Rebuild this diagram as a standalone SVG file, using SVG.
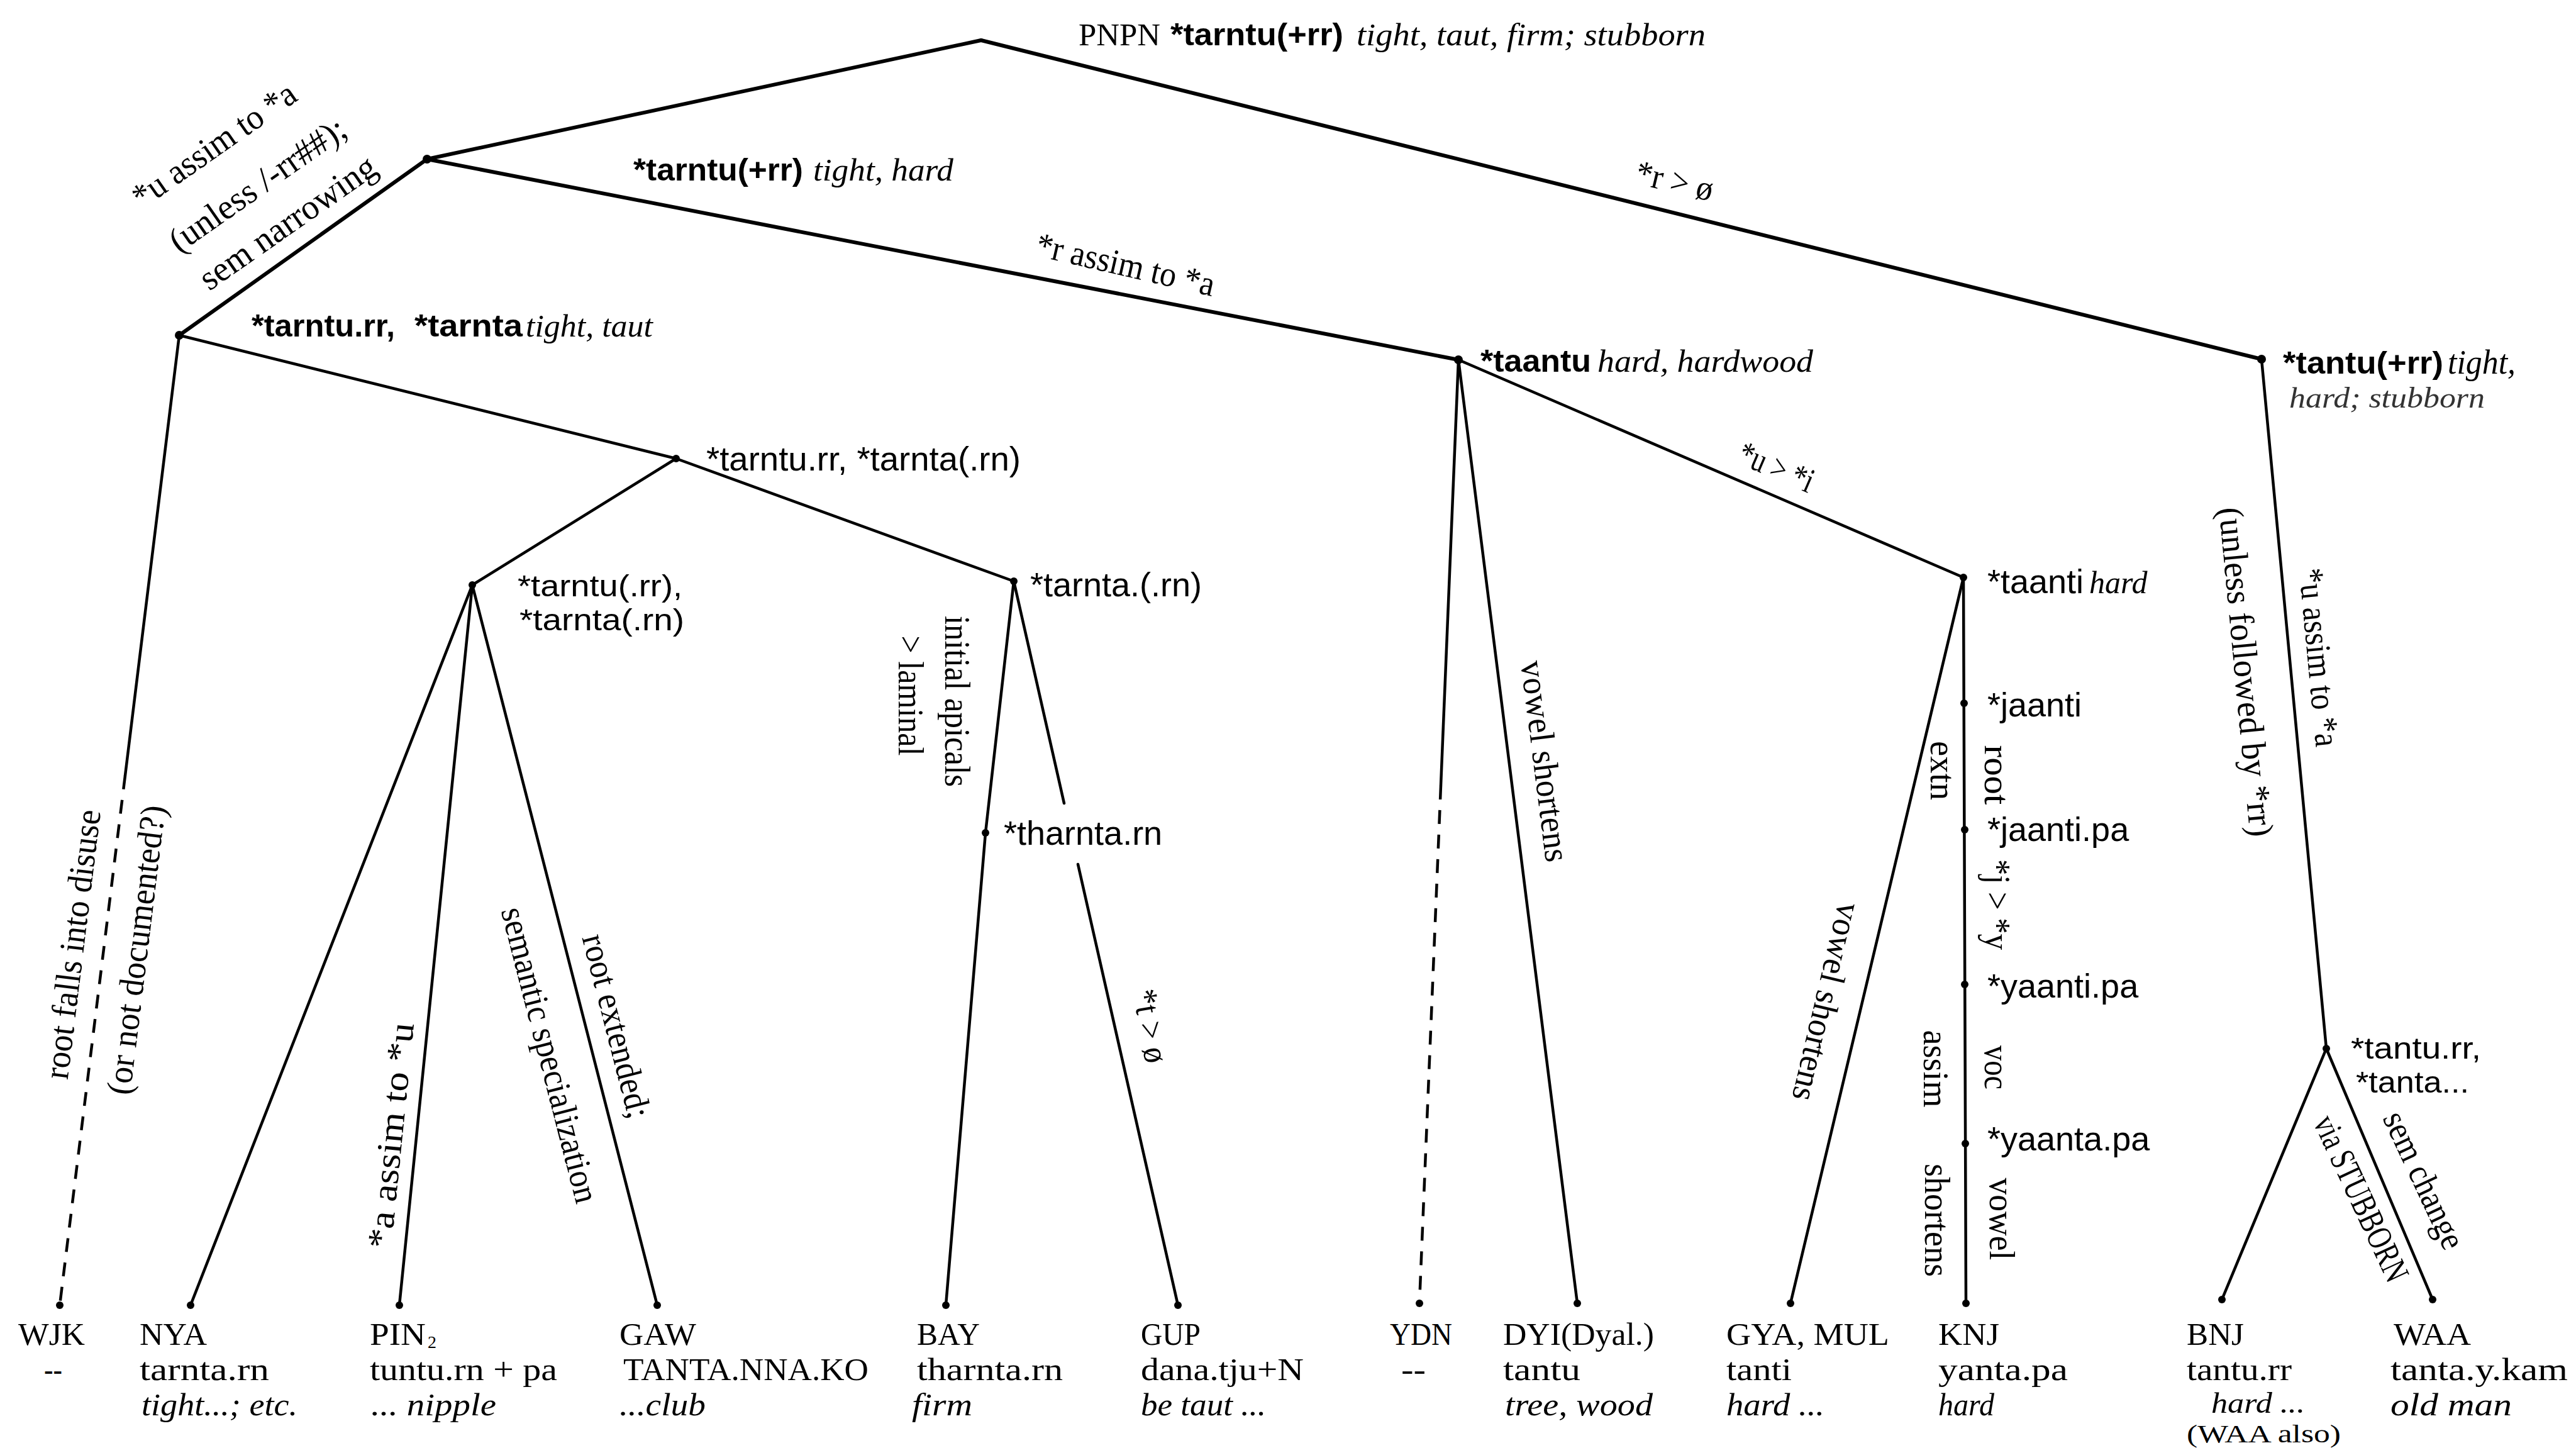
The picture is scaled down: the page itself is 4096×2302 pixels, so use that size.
<svg xmlns="http://www.w3.org/2000/svg" width="4096" height="2302" viewBox="0 0 4096 2302">
<style>
.e{stroke:#000;stroke-width:4.5;fill:none;stroke-linecap:round;stroke-linejoin:round}
.t{stroke-width:6}
.d{stroke-dasharray:22 17;stroke-linecap:butt}
.dot{fill:#000}
.s{font-family:"Liberation Sans",Arial,sans-serif;font-size:54px;fill:#000}
.s2{font-family:"Liberation Sans",Arial,sans-serif;font-size:48px;fill:#000}
.sb{font-family:"Liberation Sans",Arial,sans-serif;font-size:50px;font-weight:bold;fill:#000}
.r{font-family:"Liberation Serif","Times New Roman",serif;font-size:56px;fill:#000}
.lf{font-family:"Liberation Serif","Times New Roman",serif;font-size:50px;fill:#000}
.i{font-style:italic}
.c{text-anchor:middle;dominant-baseline:central}
</style>
<rect width="4096" height="2302" fill="#fff"/>
<g id="connectors">
<path class="e t" d="M1560,64 L679,253"/>
<path class="e t" d="M1560,64 L3596,571"/>
<path class="e t" d="M679,253 L285,533"/>
<path class="e t" d="M679,253 L2319,572"/>
<path class="e" d="M285,533 L199,1233"/>
<path class="e d" d="M199,1233 L95,2075"/>
<path class="e" d="M285,533 L1075,729"/>
<path class="e" d="M1075,729 L751,930"/>
<path class="e" d="M1075,729 L1612,924"/>
<path class="e" d="M751,930 L303,2075"/>
<path class="e" d="M751,930 L635,2075"/>
<path class="e" d="M751,930 L1045,2075"/>
<path class="e" d="M1612,924 L1567,1324 L1504,2075"/>
<path class="e" d="M1612,924 L1692,1277"/>
<path class="e" d="M1714,1374 L1873,2075"/>
<path class="e" d="M2319,572 L2291,1249"/>
<path class="e d" d="M2291,1249 L2257,2072"/>
<path class="e" d="M2319,572 L2508,2072"/>
<path class="e" d="M2319,572 L3122,918"/>
<path class="e" d="M3122,918 L2847,2072"/>
<path class="e" d="M3122,918 L3126,2072"/>
<path class="e" d="M3596,571 L3699,1667"/>
<path class="e" d="M3699,1667 L3533,2066"/>
<path class="e" d="M3699,1667 L3868,2066"/>
</g>
<g id="edge-labels">
<text class="r c" transform="translate(340,230) rotate(-35)" textLength="305" lengthAdjust="spacingAndGlyphs">*u assim to *a</text>
<text class="r c" transform="translate(409,293) rotate(-35)" textLength="330" lengthAdjust="spacingAndGlyphs">(unless /-rr##);</text>
<text class="r c" transform="translate(457,353) rotate(-35)" textLength="330" lengthAdjust="spacingAndGlyphs">sem narrowing</text>
<text class="r c" transform="translate(1790,420) rotate(13)" textLength="290" lengthAdjust="spacingAndGlyphs">*r assim to *a</text>
<text class="r c" transform="translate(2663,287) rotate(13.5)" textLength="125" lengthAdjust="spacingAndGlyphs">*r &gt; ø</text>
<text class="r c" transform="translate(2825,742) rotate(23.3)" textLength="125" lengthAdjust="spacingAndGlyphs">*u &gt; *i</text>
<text class="r c" transform="translate(115,1501) rotate(-83)" textLength="431" lengthAdjust="spacingAndGlyphs">root falls into disuse</text>
<text class="r c" transform="translate(216,1510) rotate(-83)" textLength="463" lengthAdjust="spacingAndGlyphs">(or not documented?)</text>
<text class="r c" transform="translate(621,1805) rotate(-84.2)" textLength="360" lengthAdjust="spacingAndGlyphs">*a assim to *u</text>
<text class="r c" transform="translate(981,1631) rotate(75.6)" textLength="300" lengthAdjust="spacingAndGlyphs">root extended;</text>
<text class="r c" transform="translate(875,1677) rotate(75.6)" textLength="483" lengthAdjust="spacingAndGlyphs">semantic specialization</text>
<text class="r c" transform="translate(1522,1115) rotate(90)" textLength="272" lengthAdjust="spacingAndGlyphs">initial apicals</text>
<text class="r c" transform="translate(1448,1106) rotate(90)" textLength="191" lengthAdjust="spacingAndGlyphs">&gt; laminal</text>
<text class="r c" transform="translate(1830,1631) rotate(80)" textLength="118" lengthAdjust="spacingAndGlyphs">*t &gt; ø</text>
<text class="r c" transform="translate(2457,1210) rotate(82.8)" textLength="322" lengthAdjust="spacingAndGlyphs">vowel shortens</text>
<text class="r c" transform="translate(2905,1593) rotate(103.4)" textLength="322" lengthAdjust="spacingAndGlyphs">vowel shortens</text>
<text class="r c" transform="translate(3175,1232) rotate(90)" textLength="95" lengthAdjust="spacingAndGlyphs">root</text>
<text class="r c" transform="translate(3089,1225) rotate(90)" textLength="94" lengthAdjust="spacingAndGlyphs">extn</text>
<text class="r c" transform="translate(3176,1438) rotate(90)" textLength="144" lengthAdjust="spacingAndGlyphs">*j &gt; *y</text>
<text class="r c" transform="translate(3175,1697) rotate(90)" textLength="70" lengthAdjust="spacingAndGlyphs">voc</text>
<text class="r c" transform="translate(3078,1699) rotate(90)" textLength="123" lengthAdjust="spacingAndGlyphs">assim</text>
<text class="r c" transform="translate(3183,1938) rotate(90)" textLength="131" lengthAdjust="spacingAndGlyphs">vowel</text>
<text class="r c" transform="translate(3080,1940) rotate(90)" textLength="180" lengthAdjust="spacingAndGlyphs">shortens</text>
<text class="r c" transform="translate(3688,1045) rotate(84.6)" textLength="285" lengthAdjust="spacingAndGlyphs">*u assim to *a</text>
<text class="r c" transform="translate(3572,1068) rotate(84.6)" textLength="526" lengthAdjust="spacingAndGlyphs">(unless followed by *rr)</text>
<text class="r c" transform="translate(3755,1905) rotate(65)" font-size="52" textLength="285" lengthAdjust="spacingAndGlyphs">via STUBBORN</text>
<text class="r c" transform="translate(3855,1876) rotate(65)" font-size="52" textLength="235" lengthAdjust="spacingAndGlyphs">sem change</text>
</g>
<g id="n-root">
<text class="lf" x="1715" y="72" font-size="57" textLength="130" lengthAdjust="spacingAndGlyphs">PNPN</text>
<text class="sb" x="1861" y="72" font-size="52" textLength="275" lengthAdjust="spacingAndGlyphs">*tarntu(+rr)</text>
<text class="lf i" x="2157" y="72" font-size="57" textLength="555" lengthAdjust="spacingAndGlyphs">tight, taut, firm; stubborn</text>
</g>
<g id="n-a">
<circle class="dot" cx="679" cy="253" r="7"/>
<text class="sb" x="1007" y="287" textLength="270" lengthAdjust="spacingAndGlyphs">*tarntu(+rr)</text>
<text class="lf i" x="1293" y="287" font-size="54" textLength="223" lengthAdjust="spacingAndGlyphs">tight, hard</text>
</g>
<g id="n-b">
<circle class="dot" cx="285" cy="533" r="7"/>
<text class="sb" x="400" y="535" textLength="228" lengthAdjust="spacingAndGlyphs">*tarntu.rr,</text>
<text class="sb" x="659" y="535" textLength="172" lengthAdjust="spacingAndGlyphs">*tarnta</text>
<text class="lf i" x="836" y="535" font-size="54" textLength="202" lengthAdjust="spacingAndGlyphs">tight, taut</text>
</g>
<g id="n-c">
<circle class="dot" cx="2319" cy="572" r="7"/>
<text class="sb" x="2354" y="591" textLength="176" lengthAdjust="spacingAndGlyphs">*taantu</text>
<text class="lf i" x="2540" y="591" font-size="54" textLength="343" lengthAdjust="spacingAndGlyphs">hard, hardwood</text>
</g>
<g id="n-d">
<circle class="dot" cx="3596" cy="571" r="7"/>
<text class="lf"><tspan class="sb" x="3630" y="594" textLength="255" lengthAdjust="spacingAndGlyphs">*tantu(+rr)</tspan><tspan class="i" x="3892" y="594" font-size="54" textLength="108" lengthAdjust="spacingAndGlyphs">tight,</tspan><tspan class="i" x="3640" y="648" font-size="46" fill="#333" textLength="311" lengthAdjust="spacingAndGlyphs">hard; stubborn</tspan></text>
</g>
<g id="n-e">
<circle class="dot" cx="1075" cy="729" r="6"/>
<text class="s" x="1123" y="748" textLength="500" lengthAdjust="spacingAndGlyphs">*tarntu.rr, *tarnta(.rn)</text>
</g>
<g id="n-f">
<circle class="dot" cx="751" cy="930" r="6"/>
<text class="s2"><tspan x="823" y="948" textLength="262" lengthAdjust="spacingAndGlyphs">*tarntu(.rr),</tspan><tspan x="826" y="1002" textLength="262" lengthAdjust="spacingAndGlyphs">*tarnta(.rn)</tspan></text>
</g>
<g id="n-g">
<circle class="dot" cx="1612" cy="924" r="6"/>
<text class="s" x="1638" y="948">*tarnta.(.rn)</text>
</g>
<g id="n-tharnta">
<circle class="dot" cx="1567" cy="1324" r="6"/>
<text class="s" x="1596" y="1343">*tharnta.rn</text>
</g>
<g id="n-h">
<circle class="dot" cx="3122" cy="918" r="6"/>
<text class="s" x="3160" y="943">*taanti<tspan class="lf i" x="3322" font-size="54">hard</tspan></text>
</g>
<g id="n-jaanti">
<circle class="dot" cx="3123" cy="1118" r="6"/>
<text class="s" x="3160" y="1139">*jaanti</text>
</g>
<g id="n-jaantipa">
<circle class="dot" cx="3124" cy="1319" r="6"/>
<text class="s" x="3160" y="1337">*jaanti.pa</text>
</g>
<g id="n-yaantipa">
<circle class="dot" cx="3124" cy="1565" r="6"/>
<text class="s" x="3160" y="1586">*yaanti.pa</text>
</g>
<g id="n-yaantapa">
<circle class="dot" cx="3125" cy="1818" r="6"/>
<text class="s" x="3160" y="1829">*yaanta.pa</text>
</g>
<g id="n-i">
<circle class="dot" cx="3699" cy="1667" r="6"/>
<text class="s2"><tspan x="3738" y="1683" textLength="207" lengthAdjust="spacingAndGlyphs">*tantu.rr,</tspan><tspan x="3746" y="1737" textLength="180" lengthAdjust="spacingAndGlyphs">*tanta...</tspan></text>
</g>
<g id="leaf-wjk">
<circle class="dot" cx="95" cy="2075" r="6"/>
<text class="lf"><tspan x="29" y="2138" textLength="106" lengthAdjust="spacingAndGlyphs">WJK</tspan><tspan x="70" y="2194" textLength="29" lengthAdjust="spacingAndGlyphs">--</tspan></text>
</g>
<g id="leaf-nya">
<circle class="dot" cx="303" cy="2075" r="6"/>
<text class="lf"><tspan x="222" y="2138" textLength="107" lengthAdjust="spacingAndGlyphs">NYA</tspan><tspan x="222" y="2194" textLength="206" lengthAdjust="spacingAndGlyphs">tarnta.rn</tspan><tspan class="i" x="225" y="2250" textLength="248" lengthAdjust="spacingAndGlyphs">tight...; etc.</tspan></text>
</g>
<g id="leaf-pin">
<circle class="dot" cx="635" cy="2075" r="6"/>
<text class="lf"><tspan x="588" y="2138" textLength="89" lengthAdjust="spacingAndGlyphs">PIN</tspan><tspan x="680" y="2143" font-size="28">2</tspan><tspan x="588" y="2194" textLength="298" lengthAdjust="spacingAndGlyphs">tuntu.rn + pa</tspan><tspan class="i" x="590" y="2250" textLength="199" lengthAdjust="spacingAndGlyphs">... nipple</tspan></text>
</g>
<g id="leaf-gaw">
<circle class="dot" cx="1045" cy="2075" r="6"/>
<text class="lf"><tspan x="985" y="2138" textLength="122" lengthAdjust="spacingAndGlyphs">GAW</tspan><tspan x="991" y="2194" textLength="390" lengthAdjust="spacingAndGlyphs">TANTA.NNA.KO</tspan><tspan class="i" x="985" y="2250" textLength="137" lengthAdjust="spacingAndGlyphs">...club</tspan></text>
</g>
<g id="leaf-bay">
<circle class="dot" cx="1504" cy="2075" r="6"/>
<text class="lf"><tspan x="1458" y="2138" textLength="100" lengthAdjust="spacingAndGlyphs">BAY</tspan><tspan x="1458" y="2194" textLength="232" lengthAdjust="spacingAndGlyphs">tharnta.rn</tspan><tspan class="i" x="1450" y="2250" textLength="96" lengthAdjust="spacingAndGlyphs">firm</tspan></text>
</g>
<g id="leaf-gup">
<circle class="dot" cx="1873" cy="2075" r="6"/>
<text class="lf"><tspan x="1814" y="2138" textLength="95" lengthAdjust="spacingAndGlyphs">GUP</tspan><tspan x="1814" y="2194" textLength="259" lengthAdjust="spacingAndGlyphs">dana.tju+N</tspan><tspan class="i" x="1814" y="2250" textLength="199" lengthAdjust="spacingAndGlyphs">be taut ...</tspan></text>
</g>
<g id="leaf-ydn">
<circle class="dot" cx="2257" cy="2072" r="6"/>
<text class="lf"><tspan x="2210" y="2138" textLength="99" lengthAdjust="spacingAndGlyphs">YDN</tspan><tspan x="2228" y="2194" textLength="39" lengthAdjust="spacingAndGlyphs">--</tspan></text>
</g>
<g id="leaf-dyi">
<circle class="dot" cx="2508" cy="2072" r="6"/>
<text class="lf"><tspan x="2390" y="2138" textLength="240" lengthAdjust="spacingAndGlyphs">DYI(Dyal.)</tspan><tspan x="2390" y="2194" textLength="123" lengthAdjust="spacingAndGlyphs">tantu</tspan><tspan class="i" x="2393" y="2250" textLength="235" lengthAdjust="spacingAndGlyphs">tree, wood</tspan></text>
</g>
<g id="leaf-gya">
<circle class="dot" cx="2847" cy="2072" r="6"/>
<text class="lf"><tspan x="2745" y="2138" textLength="259" lengthAdjust="spacingAndGlyphs">GYA, MUL</tspan><tspan x="2745" y="2194" textLength="104" lengthAdjust="spacingAndGlyphs">tanti</tspan><tspan class="i" x="2745" y="2250" textLength="156" lengthAdjust="spacingAndGlyphs">hard ...</tspan></text>
</g>
<g id="leaf-knj">
<circle class="dot" cx="3126" cy="2072" r="6"/>
<text class="lf"><tspan x="3082" y="2138" textLength="97" lengthAdjust="spacingAndGlyphs">KNJ</tspan><tspan x="3082" y="2194" textLength="206" lengthAdjust="spacingAndGlyphs">yanta.pa</tspan><tspan class="i" x="3082" y="2250" textLength="89" lengthAdjust="spacingAndGlyphs">hard</tspan></text>
</g>
<g id="leaf-bnj">
<circle class="dot" cx="3533" cy="2066" r="6"/>
<text class="lf"><tspan x="3477" y="2138" textLength="91" lengthAdjust="spacingAndGlyphs">BNJ</tspan><tspan x="3477" y="2194" textLength="167" lengthAdjust="spacingAndGlyphs">tantu.rr</tspan><tspan class="i" x="3516" y="2246" font-size="46" textLength="149" lengthAdjust="spacingAndGlyphs">hard ...</tspan><tspan x="3477" y="2293" font-size="40" textLength="245" lengthAdjust="spacingAndGlyphs">(WAA also)</tspan></text>
</g>
<g id="leaf-waa">
<circle class="dot" cx="3868" cy="2066" r="6"/>
<text class="lf"><tspan x="3806" y="2138" textLength="123" lengthAdjust="spacingAndGlyphs">WAA</tspan><tspan x="3801" y="2194" textLength="282" lengthAdjust="spacingAndGlyphs">tanta.y.kam</tspan><tspan class="i" x="3801" y="2250" textLength="193" lengthAdjust="spacingAndGlyphs">old man</tspan></text>
</g>
</svg>
